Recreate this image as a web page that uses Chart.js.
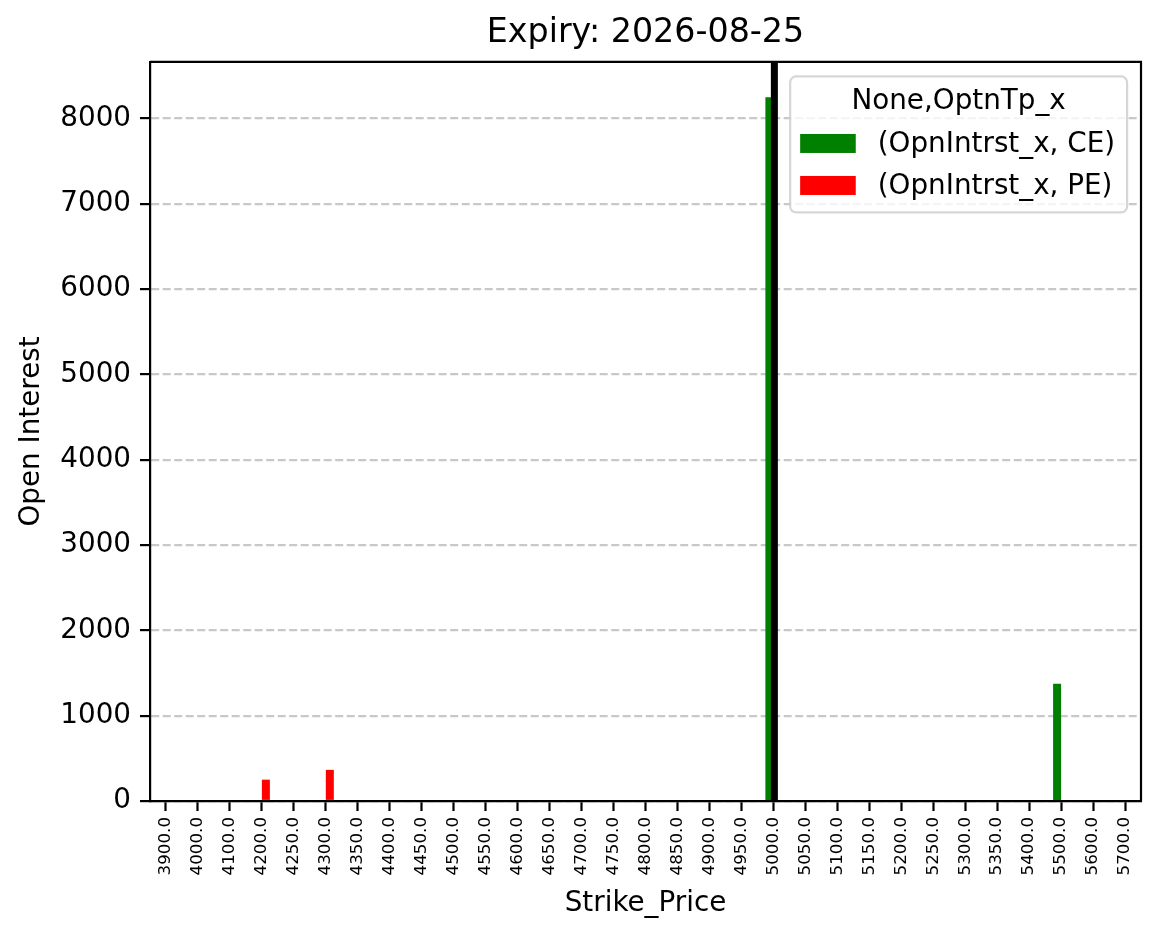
<!DOCTYPE html>
<html lang="en">
    <head>
        <meta charset="UTF-8">
        <title>Expiry: 2026-08-25</title>
        <script src="https://cdn.jsdelivr.net/npm/chart.js"></script>
        <style>
            html, body {
                margin: 0;
                padding: 0;
                background: white;
            }
            #wrap {
                width: 1161px;
                height: 939px;
            }
        </style>
    </head>
    <body>
        <div id="wrap">
            <canvas id="oiChart" width="1161" height="939"></canvas>
        </div>

        <script>
            // strike prices (category axis)
            const strikes = [
                '3900.0', '4000.0', '4100.0', '4200.0', '4250.0', '4300.0', '4350.0', '4400.0',
                '4450.0', '4500.0', '4550.0', '4600.0', '4650.0', '4700.0', '4750.0', '4800.0',
                '4850.0', '4900.0', '4950.0', '5000.0', '5050.0', '5100.0', '5150.0', '5200.0',
                '5250.0', '5300.0', '5350.0', '5400.0', '5500.0', '5600.0', '5700.0'
            ];
            // open interest, calls
            const ceOI = [
                0, 0, 0, 0, 0, 0, 0, 0,
                0, 0, 0, 0, 0, 0, 0, 0,
                0, 0, 0, 8250, 0, 0, 0, 0,
                0, 0, 0, 0, 1375, 0, 0
            ];
            // open interest, puts
            const peOI = [
                0, 0, 0, 250, 0, 365, 0, 0,
                0, 0, 0, 0, 0, 0, 0, 0,
                0, 0, 0, 0, 0, 0, 0, 0,
                0, 0, 0, 0, 0, 0, 0
            ];
            const yTicks = [0, 1000, 2000, 3000, 4000, 5000, 6000, 7000, 8000];
            const yMax = 8662.5;
            const spotStrike = '5000.0';
            const legendTitle = 'None,OptnTp_x';

            const FONT = '"DejaVu Sans", sans-serif';

            // black spot line + top/right frame
            const overlayPlugin = {
                id: 'overlay',
                afterDatasetsDraw(chart) {
                    const ctx = chart.ctx;
                    const ca = chart.chartArea;
                    const x = chart.scales.x.getPixelForValue(strikes.indexOf(spotStrike));
                    ctx.save();
                    ctx.strokeStyle = 'black';
                    ctx.lineWidth = 7;
                    ctx.beginPath();
                    ctx.moveTo(x + 1, ca.top);
                    ctx.lineTo(x + 1, ca.bottom);
                    ctx.stroke();
                    ctx.lineWidth = 2.2;
                    ctx.beginPath();
                    ctx.moveTo(ca.left, ca.top);
                    ctx.lineTo(ca.right, ca.top);
                    ctx.lineTo(ca.right, ca.bottom);
                    ctx.stroke();
                    ctx.restore();
                },
                afterDraw(chart) {
                    // legend box in upper right of the plot area
                    const ctx = chart.ctx;
                    const ca = chart.chartArea;
                    const fs = 27.8;
                    ctx.save();
                    ctx.font = fs + 'px ' + FONT;
                    const sets = chart.data.datasets;
                    let maxW = ctx.measureText(legendTitle).width;
                    let textW = 0;
                    sets.forEach(d => { textW = Math.max(textW, ctx.measureText(d.label).width); });
                    const boxW = Math.max(maxW, 10 + 55.6 + 22 + textW) + 12;
                    const boxH = 136;
                    const bx = ca.right - 13.9 - boxW;
                    const by = ca.top + 14.5;
                    ctx.fillStyle = 'rgba(255,255,255,0.8)';
                    ctx.strokeStyle = 'rgba(204,204,204,0.8)';
                    ctx.lineWidth = 2.2;
                    ctx.beginPath();
                    ctx.roundRect(bx, by, boxW, boxH, 6);
                    ctx.fill();
                    ctx.stroke();
                    ctx.fillStyle = 'black';
                    ctx.textBaseline = 'middle';
                    ctx.textAlign = 'center';
                    ctx.fillText(legendTitle, bx + boxW / 2, by + 25);
                    ctx.textAlign = 'left';
                    sets.forEach((d, i) => {
                        const cy = by + 67 + i * 42;
                        ctx.fillStyle = d.backgroundColor;
                        ctx.fillRect(bx + 10, cy - 9.5, 55.6, 19);
                        ctx.fillStyle = 'black';
                        ctx.fillText(d.label, bx + 10 + 55.6 + 22, cy + 1);
                    });
                    ctx.restore();
                }
            };

            const ctx = document.getElementById('oiChart').getContext('2d');
            const chart = new Chart(ctx, {
                type: 'bar',
                data: {
                    labels: strikes,
                    datasets: [
                        {
                            label: '(OpnIntrst_x, CE)',
                            data: ceOI,
                            backgroundColor: 'green',
                            borderWidth: 0
                        },
                        {
                            label: '(OpnIntrst_x, PE)',
                            data: peOI,
                            backgroundColor: 'red',
                            borderWidth: 0
                        }
                    ]
                },
                options: {
                    responsive: false,
                    animation: false,
                    devicePixelRatio: 1,
                    categoryPercentage: 0.5,
                    barPercentage: 1.0,
                    layout: {
                        padding: {left: 11, right: 20, top: 0, bottom: 15}
                    },
                    plugins: {
                        legend: {display: false},
                        tooltip: {enabled: false},
                        title: {
                            display: true,
                            text: 'Expiry: 2026-08-25',
                            fullSize: false,
                            color: 'black',
                            font: {family: FONT, size: 33.3, weight: 'normal', lineHeight: 1.2},
                            padding: {top: 13, bottom: 9}
                        }
                    },
                    scales: {
                        x: {
                            offset: true,
                            grid: {
                                display: true,
                                drawOnChartArea: false,
                                offset: false,
                                tickLength: 10,
                                tickColor: 'black',
                                tickWidth: 2.2
                            },
                            border: {display: true, color: 'black', width: 2.2},
                            ticks: {
                                color: 'black',
                                font: {family: FONT, size: 16.7},
                                minRotation: 90,
                                maxRotation: 90,
                                autoSkip: false,
                                padding: 6
                            },
                            title: {
                                display: true,
                                text: 'Strike_Price',
                                color: 'black',
                                font: {family: FONT, size: 27.8, lineHeight: 1.2}
                            },
                            afterFit(scale) {
                                scale.height = 123;
                            }
                        },
                        y: {
                            min: 0,
                            max: yMax,
                            afterBuildTicks(scale) {
                                scale.ticks = yTicks.map(v => ({value: v}));
                            },
                            grid: {
                                color: 'rgba(176,176,176,0.7)',
                                lineWidth: 2.2,
                                tickBorderDash: [],
                                tickLength: 10,
                                tickColor: 'black',
                                tickWidth: 2.2
                            },
                            border: {display: true, color: 'black', width: 2.2, dash: [8, 3.5]},
                            ticks: {
                                color: 'black',
                                font: {family: FONT, size: 27.8},
                                padding: 9,
                                callback: v => String(v)
                            },
                            title: {
                                display: true,
                                text: 'Open Interest',
                                color: 'black',
                                font: {family: FONT, size: 27.8, lineHeight: 1.2}
                            },
                            afterFit(scale) {
                                scale.width = 139;
                            }
                        }
                    }
                },
                plugins: [overlayPlugin]
            });
        </script>
    </body>
</html>
